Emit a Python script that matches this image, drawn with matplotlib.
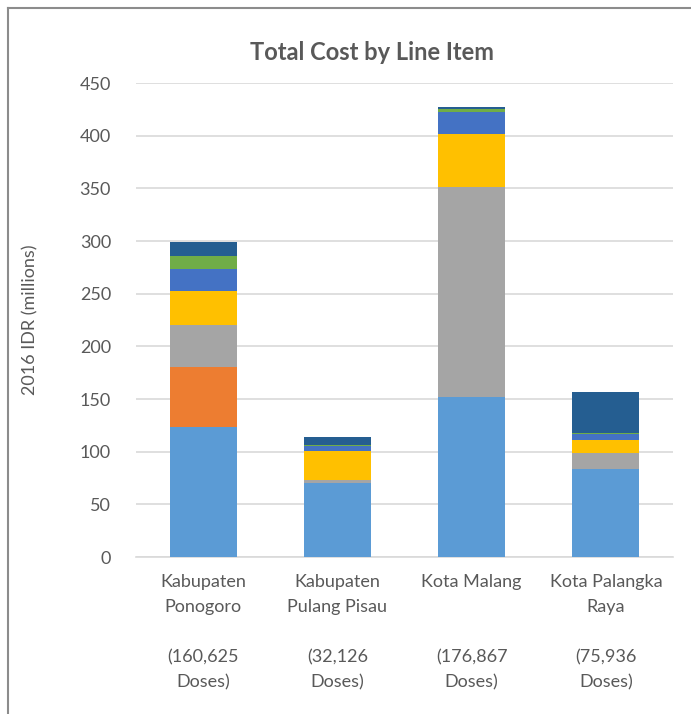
import numpy as np
import matplotlib.pyplot as plt
from matplotlib.lines import Line2D

# data (millions of 2016 IDR)
sites = ['Kabupaten\nPonogoro\n\n(160,625\nDoses)',
         'Kabupaten\nPulang Pisau\n\n(32,126\nDoses)',
         'Kota Malang\n\n\n(176,867\nDoses)',
         'Kota Palangka\nRaya\n\n(75,936\nDoses)']
seg1 = [123, 70.6, 151.5, 83.3]    # light blue
seg2 = [57, 0, 0, 0]               # orange
seg3 = [40, 2.2, 200, 15]          # gray
seg4 = [33, 28, 50.3, 13]          # yellow
seg5 = [20, 5, 20.6, 5.7]          # blue
seg6 = [13, 0.5, 2.8, 0.5]         # green
seg7 = [13, 7.5, 2.2, 39.5]        # dark blue
segments = [seg1, seg2, seg3, seg4, seg5, seg6, seg7]
colors = ['#5B9BD5', '#ED7D31', '#A5A5A5', '#FFC000', '#4472C4', '#70AD47', '#255E91']

plt.rcParams['font.family'] = ['Lato', 'DejaVu Sans']
txt = '#595959'

fig = plt.figure(figsize=(6.91, 7.14), dpi=100)
ax = fig.add_axes([136 / 691, 1 - 557 / 714, 537 / 691, (557 - 83) / 714])

x = np.arange(len(sites))
bottom = np.zeros(len(sites))
for vals, c in zip(segments, colors):
    ax.bar(x, vals, 0.5, bottom=bottom, color=c, zorder=3)
    bottom += np.array(vals)

ax.set_ylim(0, 450)
ax.set_xlim(-0.5, 3.5)
ax.set_yticks(range(0, 451, 50))
ax.yaxis.grid(True, color='#D9D9D9', linewidth=1.2, zorder=0)
for s in ['top', 'right', 'left']:
    ax.spines[s].set_visible(False)
ax.spines['bottom'].set_color('#D9D9D9')
ax.spines['bottom'].set_linewidth(1.2)
ax.tick_params(axis='y', length=0, pad=18, labelsize=13, labelcolor=txt)
ax.tick_params(axis='x', length=0, pad=12, labelsize=13, labelcolor=txt)
ax.set_xticks(x)
ax.set_xticklabels(sites, linespacing=1.7)
ax.set_ylabel('2016 IDR (millions)', fontsize=13, color=txt, labelpad=30)

fig.text(372 / 691, 1 - 53 / 714, 'Total Cost by Line Item', ha='center', va='center',
         fontsize=17, fontweight='bold', color=txt)

# chart frame (left and top edges only visible)
fig.add_artist(Line2D([8 / 691, 8 / 691], [0, 1 - 8 / 714], color='#8C8C8C', linewidth=1.5))
fig.add_artist(Line2D([8 / 691, 1], [1 - 8 / 714, 1 - 8 / 714], color='#8C8C8C', linewidth=1.5))

fig.savefig('out.png', dpi=100)
